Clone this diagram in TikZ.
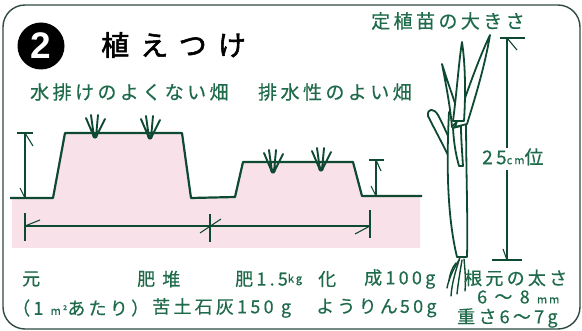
\documentclass[tikz,border=0pt]{standalone}
\usepackage{fontspec}
\newfontfamily\jp[LetterSpace=18,FakeBold=0.5]{Noto Sans CJK JP}
\newfontfamily\jptitle[LetterSpace=40,FakeBold=2]{Noto Sans CJK JP}
\newfontfamily\numfont{Liberation Sans}

\definecolor{inkgreen}{HTML}{0E4A32}
\definecolor{textgreen}{HTML}{1E6A4A}
\definecolor{bedpink}{HTML}{F8E1E9}
\definecolor{framegray}{HTML}{2F4A42}

\tikzset{
  frame/.style={draw=framegray, line width=1.4pt, rounded corners=22pt},
  numbadge/.style={circle, fill=black, text=white, minimum size=47pt, inner sep=0pt,
    font=\numfont\bfseries\fontsize{37}{37}\selectfont},
  titletext/.style={anchor=west, inner sep=0pt, font=\jptitle\fontsize{28}{28}\selectfont},
  jptext/.style={anchor=west, inner sep=0pt, text=textgreen, font=\jp\fontsize{19}{19}\selectfont},
  jpsmall/.style={anchor=west, inner sep=0pt, text=textgreen, font=\jp\fontsize{18}{18}\selectfont},
  profile/.style={draw=inkgreen, line width=2.2pt, line join=round},
  dim/.style={draw=inkgreen, line width=1.1pt},
  blade/.style={draw=inkgreen, line width=1.9pt, line cap=round, line join=round},
  leaf/.style={draw=inkgreen, fill=white, line width=1.8pt, line join=round},
  root/.style={draw=inkgreen, line width=1.4pt, line cap=round},
  tuft/.pic={
    \draw[blade] (-9,-19) -- (-1,0) -- (-4,-22);
    \draw[blade] (3,-22) -- (1,0) -- (10,-18);
    \fill[inkgreen] (0,-1) circle (2.6);
  }
}

\newcommand{\unitsm}[1]{{\fontsize{11}{11}\selectfont #1}}

\begin{document}
\begin{tikzpicture}[x=1pt,y=-1pt]
\useasboundingbox (0,0) rectangle (582,331);

% outer frame
\draw[frame] (3,5) rectangle (580,329);

% heading
\node[numbadge] (num) at (41,46) {2};
\node[titletext] (title) at (101,45) {植えつけ};

\node[jptext] (wet) at (30,92) {水排けのよくない畑};
\node[jptext] (dry) at (258,92) {排水性のよい畑};
\node[jptext] (size) at (371,21) {定植苗の大きさ};

% bed profile
\coordinate (g0) at (10,198);
\coordinate (b1a) at (53,198);
\coordinate (b1b) at (65,133);
\coordinate (b1c) at (182,133);
\coordinate (b1d) at (191,198);
\coordinate (b2a) at (235,197);
\coordinate (b2b) at (243,162);
\coordinate (b2c) at (353,162);
\coordinate (b2d) at (362,196);
\coordinate (g1) at (422,196);

\fill[bedpink] (12,198) -- (b1a) -- (b1b) -- (b1c) -- (b1d) -- (b2a) -- (b2b)
  -- (b2c) -- (b2d) -- (420,196) -- (420,248) -- (12,248) -- cycle;
\draw[profile] (g0) -- (b1a) -- (b1b) -- (b1c) -- (b1d) -- (b2a) -- (b2b)
  -- (b2c) -- (b2d) -- (g1);

% young plants on the beds
\pic at (95,137) {tuft};
\pic at (150,138) {tuft};
\pic at (273,172) {tuft};
\pic at (321,170) {tuft};

% bed heights
\coordinate (h1t) at (25,133);
\coordinate (h1b) at (25,198);
\draw[dim] (17,133) -- (33,133);
\draw[dim] (h1t) -- (h1b);
\draw[dim] (h1t) -- ++(8,13);
\draw[dim] (h1b) -- ++(-5,-10);

\coordinate (h2t) at (376,160);
\coordinate (h2b) at (376,196);
\draw[dim] (369,160) -- (384,160);
\draw[dim] (h2t) -- (h2b);
\draw[dim] (h2t) -- ++(5,11);
\draw[dim] (h2b) -- ++(-5,-10);

% bed widths
\coordinate (w0) at (25,226);
\coordinate (w1) at (210,226);
\coordinate (w2) at (370,226);
\draw[dim] (25,213) -- (25,241);
\draw[dim] (210,214) -- (210,242);
\draw[dim] (370,210) -- (370,238);
\draw[dim] (w0) -- (w1) -- (w2);
\draw[dim] (w0) -- ++(15,-6);
\draw[dim] (200,233) -- (221,219);
\draw[dim] (w2) -- ++(-15,8);

% seedling
\draw[leaf] (428,116) .. controls (427,108) and (434,108) .. (438,115)
  .. controls (446,130) and (453,148) .. (461,166) -- (454,168)
  .. controls (446,150) and (436,132) .. (428,116) -- cycle;
\draw[leaf] (449,112) .. controls (446,170) and (448,220) .. (457,257)
  -- (467,257) .. controls (468,220) and (466,170) .. (466,112) -- cycle;
\draw[leaf] (442,64) .. controls (446,85) and (450,105) .. (452,127)
  -- (460,118) .. controls (454,100) and (447,80) .. (442,64) -- cycle;
\draw[leaf] (455,127) .. controls (466,95) and (478,60) .. (490,35)
  .. controls (485,65) and (476,95) .. (467,124) -- cycle;
\draw[leaf] (453,121) .. controls (457,90) and (459,60) .. (462,42)
  .. controls (465,62) and (466,90) .. (464,121) -- cycle;
\draw[leaf] (453,128) .. controls (454,145) and (456,155) .. (459,166)
  -- (463,166) .. controls (462,150) and (461,138) .. (461,126) -- cycle;
\draw[root] (460,257) .. controls (456,270) and (452,282) .. (451,296);
\draw[root] (459,260) .. controls (453,270) and (449,278) .. (447,288);
\draw[root] (462,260) .. controls (460,272) and (458,284) .. (457,294);
\draw[root] (464,259) .. controls (465,270) and (466,280) .. (465,291);
\draw[root] (456,263) .. controls (452,268) and (450,273) .. (449,281);

% seedling height
\node[jptext] (len) at (482,157) {25\unitsm{cm}位};
\coordinate (pt) at (507,38);
\coordinate (pb) at (507,260);
\draw[dim] (500,38) -- (525,38);
\draw[dim] (pt) -- (len.north -| pt);
\draw[dim] (len.south -| pb) ++(0,4) -- (pb);
\draw[dim] (492,260) -- (522,260);
\draw[dim] (pt) -- ++(10,12);
\draw[dim] (pb) -- ++(-4,-11);

\node[jpsmall] (base) at (464,278) {根元の太さ};
\node[jpsmall] (thick) at (477,297) {6 ～ 8 \unitsm{mm}};
\node[jpsmall] (weight) at (457,318) {重さ6～7g};

% fertilizer amounts
\node[jpsmall] (f1) at (22,279) {元};
\node[jpsmall] (f2) at (137,279) {肥};
\node[jpsmall] (f3) at (162,279) {堆};
\node[jpsmall] (f4) at (235,279) {肥1.5\raisebox{3pt}{\unitsm{kg}}};
\node[jpsmall] (f5) at (318,279) {化};
\node[jpsmall] (f6) at (364,279) {成100g};
\node[jpsmall] (f7) at (12,308) {（1 \unitsm{m²}あたり）};
\node[jpsmall] (f8) at (152,308) {苦土石灰150 g};
\node[jpsmall] (f9) at (316,308) {ようりん\hspace{2pt}50g};
\end{tikzpicture}
\end{document}
